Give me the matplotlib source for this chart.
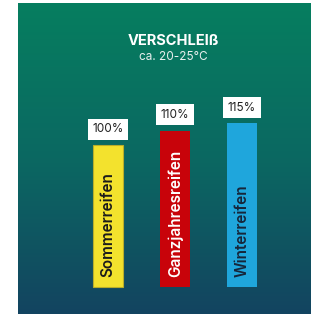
import numpy as np
import matplotlib
matplotlib.use('Agg')
import matplotlib.pyplot as plt
from matplotlib.colors import LinearSegmentedColormap

# data
tyres = ['Sommerreifen', 'Ganzjahresreifen', 'Winterreifen']
wear = [100, 110, 115]
wear_labels = ['100%', '110%', '115%']
bar_colors = ['#f3e22d', '#c8030a', '#1fa6dc']
name_colors = ['#1b1b1b', '#ffffff', '#16263a']

plt.rcParams['font.family'] = ['Inter', 'DejaVu Sans']

W, H = 311, 314
fig = plt.figure(figsize=(W / 100, H / 100), dpi=100)
fig.patch.set_facecolor('white')

# panel in pixel terms: x 18..311, y 3..314
px0, px1, py0, py1 = 18, 311, 3, 314
ax = fig.add_axes([px0 / W, 1 - py1 / H, (px1 - px0) / W, (py1 - py0) / H])

# mapping: bar 0 centre at pixel 108, 67 px per bar, baseline at 286.7, 1.42 px per %
xc0, xstep = 108, 67
base, yscale = 286.7, 1.42
xlim = ((px0 - xc0) / xstep, (px1 - xc0) / xstep)
ylim = (-(py1 - base) / yscale, (base - py0) / yscale)

# gradient background
cmap = LinearSegmentedColormap.from_list('bg', ['#067e5f', '#0b6862', '#134460'])
grad = np.linspace(0, 1, 256).reshape(-1, 1)
ax.imshow(grad, cmap=cmap, aspect='auto', extent=(xlim[0], xlim[1], ylim[0], ylim[1]),
          origin='upper', zorder=0)

x = np.arange(len(tyres))
bars = ax.bar(x, wear, width=0.44, color=bar_colors, zorder=2)
bars[0].set_edgecolor('#b9ad2a')
bars[0].set_linewidth(0.8)

for i in range(len(tyres)):
    ax.text(x[i], wear[i] + 11, wear_labels[i], ha='center', va='center', fontsize=8.5,
            color='#222222', zorder=3,
            bbox=dict(boxstyle='square,pad=0.38', facecolor='white', edgecolor='none'))
    ax.text(x[i], 7, tyres[i], rotation=90, ha='center', va='bottom', fontsize=11,
            fontweight='semibold', color=name_colors[i], zorder=3)

ax.set_xlim(xlim)
ax.set_ylim(ylim)
ax.axis('off')

fig.text(173.5 / W, 1 - 41 / H, 'VERSCHLEIß', ha='center', va='center', fontsize=10.5,
         fontweight='bold', color='white')
fig.text(173.5 / W, 1 - 57 / H, 'ca. 20-25°C', ha='center', va='center', fontsize=8.5,
         color='#e8f0ee')

fig.savefig('out.png', dpi=100)
